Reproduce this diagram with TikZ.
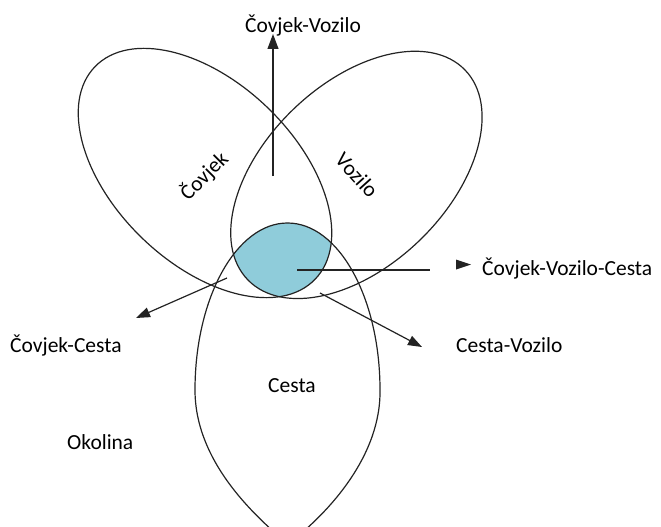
\documentclass[tikz,border=0pt]{standalone}
\usepackage{fontspec}
\setmainfont{Carlito}
\usetikzlibrary{arrows.meta}
\definecolor{triblue}{RGB}{143,204,218}
\definecolor{ink}{RGB}{35,35,35}
\begin{document}
\begin{tikzpicture}[x=1pt,y=-1pt,
  lbl/.style={inner sep=0pt,font=\fontsize{21.5}{25}\selectfont,text=black},
  outline/.style={draw=ink,line width=1.2pt},
  conn/.style={draw=ink,line width=1.2pt,-{Triangle[length=14pt,width=10pt]}},
  plainline/.style={draw=ink,line width=1.2pt},
  covjekpos/.style={shift={(205,173)},rotate=-44},
  vozilopos/.style={shift={(356.4,174.9)},rotate=44}]
\useasboundingbox (0,0) rectangle (661,527);
\clip (0,0) rectangle (661,527);
\def\covjek{(0,0) ellipse [x radius=153pt,y radius=90.5pt]}
\def\vozilo{(0,0) ellipse [x radius=151pt,y radius=91pt]}
\def\cesta{(287.5,223) .. controls (338.6,223) and (380,297.8) .. (380,390)
  .. controls (381,455) and (330,512) .. (288,544)
  .. controls (252,514) and (195,460) .. (195,390)
  .. controls (195,297.8) and (236.4,223) .. (287.5,223) -- cycle}
% triple intersection
\begin{scope}
  \clip[covjekpos] \covjek;
  \clip[vozilopos] \vozilo;
  \fill[triblue] \cesta;
\end{scope}
\draw[outline,covjekpos] \covjek;
\draw[outline,vozilopos] \vozilo;
\draw[outline] \cesta;
% labels
\node[lbl,rotate=45] (lc) at (204,176) {Čovjek};
\node[lbl,rotate=-48] (lv) at (357,175) {Vozilo};
\node[lbl,anchor=base west] (ces) at (268,392) {Cesta};
\node[lbl,anchor=base west] (oko) at (67,449) {Okolina};
\node[lbl,anchor=base] (cv) at (303,33) {Čovjek-Vozilo};
\node[lbl,anchor=base west] (cvc) at (482,275) {Čovjek-Vozilo-Cesta};
\node[lbl,anchor=base west] (cs) at (456,352) {Cesta-Vozilo};
\node[lbl,anchor=base west] (cc) at (10,352) {Čovjek-Cesta};
% connector points
\coordinate (s1) at (273,176);
\coordinate (e1) at (273,34);
\coordinate (s2) at (297,270);
\coordinate (e2) at (430,270);
\coordinate (s3) at (227,278);
\coordinate (e3) at (136,318);
\coordinate (s4) at (320,293);
\coordinate (e4) at (422,347);
\draw[conn,-{Triangle[length=15pt,width=11pt]}] (s1) -- (e1);
\draw[plainline] (s2) -- (e2);
\fill[ink] (456,259.5) -- (471,264.5) -- (456,269.5) -- cycle;
\draw[conn] (s3) -- (e3);
\draw[conn] (s4) -- (e4);
\end{tikzpicture}
\end{document}
